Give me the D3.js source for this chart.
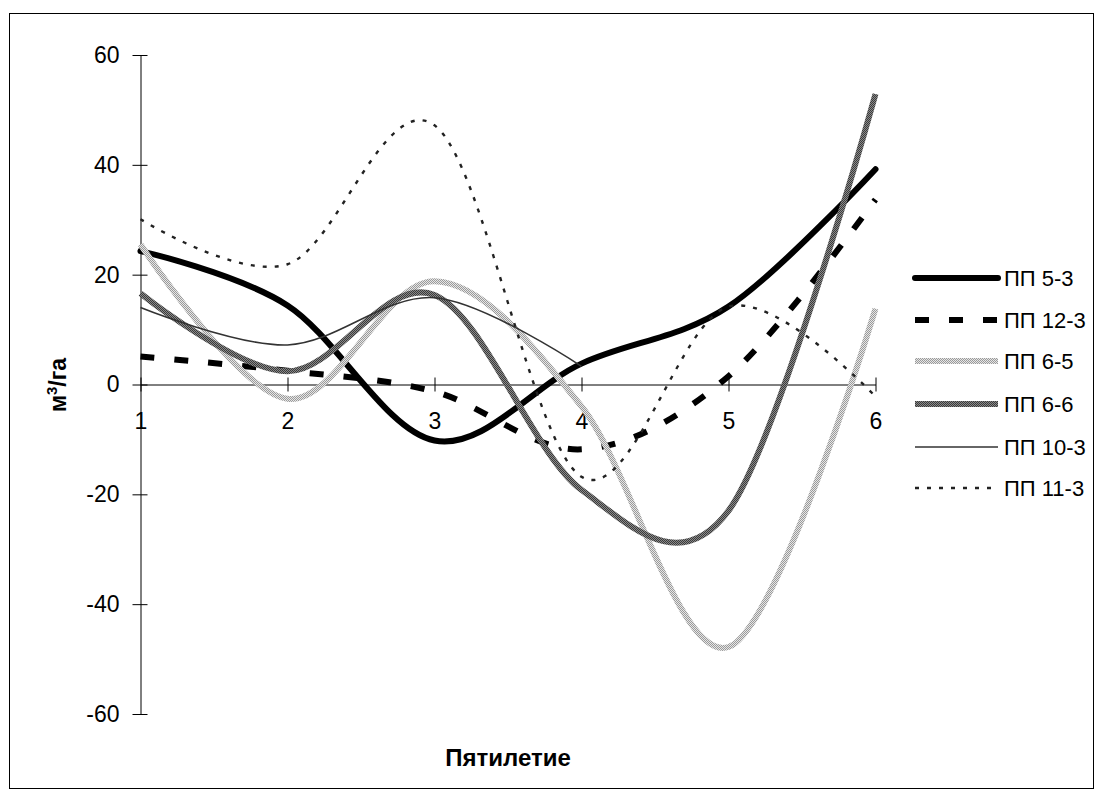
<!DOCTYPE html>
<html>
<head>
<meta charset="utf-8">
<script src="https://cdn.jsdelivr.net/npm/d3@7"></script>
<style>
  html, body { margin: 0; padding: 0; background: #fff; }
  svg { display: block; font-family: "Liberation Sans", Arial, sans-serif; }
</style>
</head>
<body>
<svg id="chart" width="1096" height="796"></svg>
<script>
// ---- data ----
const periods = [1, 2, 3, 4, 5, 6];
const yTicks = [-60, -40, -20, 0, 20, 40, 60];
const seriesNames = ["ПП 5-3", "ПП 12-3", "ПП 6-5", "ПП 6-6", "ПП 10-3", "ПП 11-3"];
const pp5_3  = [24.3, 14.4, -10.2, 3.8, 14.2, 39.2];
const pp12_3 = [5.1, 2.5, -1.3, -11.8, 1.5, 33.7];
const pp6_5  = [25.5, -2.6, 18.8, -4.0, -47.8, 13.8];
const pp6_6  = [16.6, 2.4, 16.3, -19.2, -23.0, 52.9];
const pp10_3 = [14.0, 7.2, 15.8, 3.3];
const pp11_3 = [30.1, 21.9, 47.2, -16.8, 14.2, -2.2];
const xTitle = "Пятилетие";
const yTitle = "м";

const svg = d3.select("#chart");

// textures for patterned lines
const defs = svg.append("defs");
function checker(id, a, b) {
  const p = defs.append("pattern").attr("id", id)
    .attr("patternUnits", "userSpaceOnUse").attr("width", 2).attr("height", 2);
  p.append("rect").attr("width", 2).attr("height", 2).attr("fill", b);
  p.append("rect").attr("width", 1).attr("height", 1).attr("fill", a);
  p.append("rect").attr("x", 1).attr("y", 1).attr("width", 1).attr("height", 1).attr("fill", a);
}
checker("tex65", "#9a9a9a", "#e6e6e6");
checker("tex66", "#3a3a3a", "#8a8a8a");

// frame
svg.append("rect").attr("x", 9.5).attr("y", 13.5).attr("width", 1084).attr("height", 775)
  .attr("fill", "#fff").attr("stroke", "#000").attr("stroke-width", 1);

const x = d3.scaleLinear().domain([1, 6]).range([140.5, 875.5]);
const y = d3.scaleLinear().domain([-60, 60]).range([714, 55]);

// y axis
const yAxis = svg.append("g").attr("transform", `translate(${x(1)},0)`)
  .call(d3.axisLeft(y).tickValues(yTicks).tickSizeOuter(0).tickSizeInner(8)
    .tickFormat(d => String(d)));
yAxis.select(".domain").attr("stroke", "#000");
yAxis.selectAll(".tick line").attr("x1", 7).attr("x2", -8).attr("stroke", "#000");
yAxis.selectAll(".tick text").attr("x", -21).attr("font-size", 23)
  .attr("font-family", "Liberation Sans, Arial, sans-serif").attr("fill", "#000");

// x axis at zero
const xAxis = svg.append("g").attr("transform", `translate(0,${y(0)})`)
  .call(d3.axisBottom(x).tickValues(periods).tickSizeOuter(0).tickSizeInner(7)
    .tickFormat(d => String(d)));
xAxis.select(".domain").attr("stroke", "#000");
xAxis.selectAll(".tick line").attr("y1", -7).attr("y2", 7).attr("stroke", "#000");
xAxis.selectAll(".tick text").attr("y", 28).attr("font-size", 23)
  .attr("font-family", "Liberation Sans, Arial, sans-serif").attr("fill", "#000");

// series styles
const styles = [
  { stroke: "#000", width: 6, dash: null },
  { stroke: "#000", width: 6, dash: "14,20" },
  { stroke: "url(#tex65)", width: 6, dash: null },
  { stroke: "url(#tex66)", width: 6, dash: null },
  { stroke: "#333", width: 1.6, dash: null },
  { stroke: "#222", width: 2.4, dash: "4,8" }
];
const allSeries = [pp5_3, pp12_3, pp6_5, pp6_6, pp10_3, pp11_3];

const line = d3.line()
  .x((d, i) => x(periods[i]))
  .y(d => y(d))
  .curve(d3.curveCardinal.tension(0));

allSeries.forEach((vals, k) => {
  const s = styles[k];
  svg.append("path").datum(vals)
    .attr("d", line)
    .attr("fill", "none")
    .attr("stroke", s.stroke)
    .attr("stroke-width", s.width)
    .attr("stroke-dasharray", s.dash)
    .attr("stroke-linejoin", "round")
    .attr("stroke-linecap", k === 0 ? "round" : "butt");
});

// legend
const legY = [278, 320, 361, 404, 447, 488];
const leg = svg.append("g");
seriesNames.forEach((name, k) => {
  const s = styles[k];
  leg.append("line").attr("x1", 915).attr("x2", 998)
    .attr("y1", legY[k]).attr("y2", legY[k])
    .attr("stroke", s.stroke).attr("stroke-width", s.width)
    .attr("stroke-dasharray", s.dash)
    .attr("stroke-linecap", k === 0 ? "round" : "butt");
  leg.append("text").attr("x", 1004).attr("y", legY[k]).attr("dy", "0.36em")
    .attr("font-size", 22).attr("fill", "#000").text(name);
});

// axis titles
svg.append("text").attr("x", 508).attr("y", 766).attr("text-anchor", "middle")
  .attr("font-size", 24).attr("font-weight", "bold").text(xTitle);

const yt = svg.append("text").attr("transform", "translate(66,385) rotate(-90)")
  .attr("text-anchor", "middle").attr("font-size", 23).attr("font-weight", "bold");
yt.append("tspan").text(yTitle);
yt.append("tspan").attr("dy", -9).attr("font-size", 15).text("3");
yt.append("tspan").attr("dy", 9).text("/га");
</script>
</body>
</html>
